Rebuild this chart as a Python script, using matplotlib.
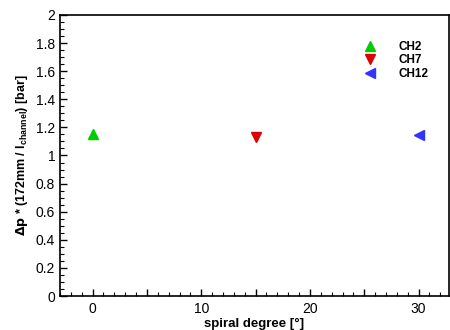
import matplotlib
matplotlib.use("Agg")
import matplotlib.pyplot as plt
from matplotlib.ticker import MultipleLocator

plt.rcParams['font.family'] = ['Liberation Sans', 'DejaVu Sans']

series = ["CH2", "CH7", "CH12"]
x_vals = [0, 15, 30]
y_vals = [1.154, 1.134, 1.144]
markers = ["^", "v", "<"]
colors = ["#00cc00", "#dd0000", "#3333ff"]

fig = plt.figure(figsize=(4.5, 3.3), dpi=100)
ax = fig.add_axes([60/450, 34/330, 389/450, 281/330])

for name, x, y, m, c in zip(series, x_vals, y_vals, markers, colors):
    ax.plot([x], [y], linestyle="none", marker=m, color=c, markersize=7, label=name)

ax.set_xlim(-3, 32.8)
ax.set_ylim(0, 2)
ax.xaxis.set_major_locator(MultipleLocator(5))
ax.xaxis.set_minor_locator(MultipleLocator(1))
ax.yaxis.set_major_locator(MultipleLocator(0.2))
ax.yaxis.set_minor_locator(MultipleLocator(0.05))
ax.xaxis.set_major_formatter(plt.FuncFormatter(lambda v, p: f"{v:g}" if abs(v) % 10 < 1e-6 else ""))
ax.yaxis.set_major_formatter(plt.FuncFormatter(lambda v, p: f"{v:g}"))
ax.tick_params(which="major", direction="in", length=5, width=1, labelsize=10)
ax.tick_params(which="minor", direction="in", length=3, width=0.8)
ax.tick_params(axis="x", pad=4)
for s in ax.spines.values():
    s.set_linewidth(1.2)

ax.set_xlabel("spiral degree [°]", fontsize=9.5, fontweight="bold", labelpad=2)
ax.set_ylabel(r"$\mathbf{\Delta p}$ * (172mm / l$_{\mathregular{channel}}$) [bar]", fontsize=9, fontweight="bold", labelpad=4)

leg = ax.legend(loc="upper left", bbox_to_anchor=(355/450, 1 - 35/330), bbox_transform=fig.transFigure,
                frameon=False, handletextpad=1.7, labelspacing=0.12, borderpad=0,
                prop={"weight": "bold", "size": 8.5}, markerscale=1.0, handlelength=1.5)

fig.savefig("out.png", dpi=100)
